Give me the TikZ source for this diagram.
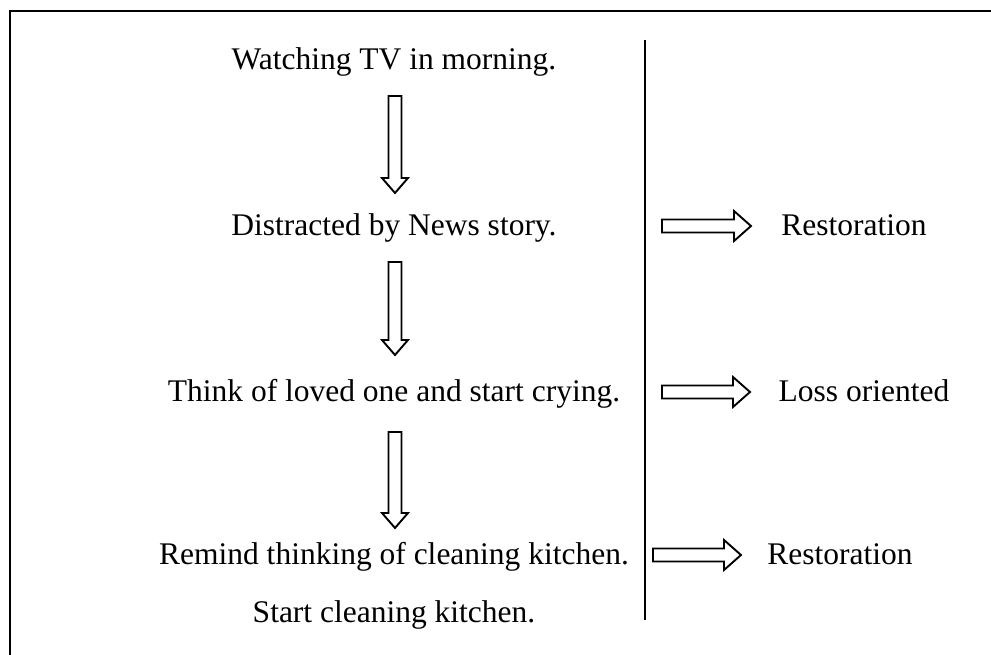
\documentclass[tikz,border=0pt]{standalone}
\usepackage{fontspec}
\setmainfont{Liberation Serif}
\begin{document}
\begin{tikzpicture}[x=1pt,y=-1pt,
  lbl/.style={anchor=base,inner sep=0pt,font=\fontsize{31.5}{36}\selectfont},
  blockarrow/.style={draw=black,line width=1.9pt,fill=white,line join=miter},
  frame/.style={draw=black,line width=2.2pt},
  divider/.style={draw=black,line width=2pt}]
\useasboundingbox (0,0) rectangle (991,655);
\fill[white] (0,0) rectangle (991,655);
% frame (right and bottom edges lie beyond the picture)
\draw[frame] (10,700) -- (10,11) -- (1050,11);
% divider
\coordinate (dtop) at (645,40);
\coordinate (dbot) at (645,620);
\draw[divider] (dtop) -- (dbot);
% left column texts
\node[lbl] (t1) at (394,70) {Watching TV in morning.};
\node[lbl] (t2) at (394,236) {Distracted by News story.};
\node[lbl] (t3) at (394,401) {Think of loved one and start crying.};
\node[lbl] (t4) at (394,564) {Remind thinking of cleaning kitchen.};
\node[lbl] (t5) at (394,622) {Start cleaning kitchen.};
% right column texts
\node[lbl] (r1) at (854,236) {Restoration};
\node[lbl] (r2) at (864,401) {Loss oriented};
\node[lbl] (r3) at (840,564) {Restoration};
% down arrows
\foreach \c/\t/\b/\p in {395/96/178/193, 395/262/340/355, 395/432/513/528}{
  \draw[blockarrow] (\c-6.5,\t) -- (\c+6.5,\t) -- (\c+6.5,\b) -- (\c+13,\b)
     -- (\c,\p) -- (\c-13,\b) -- (\c-6.5,\b) -- cycle;
}
% right arrows
\foreach \l/\h/\p/\y in {662/734/751/226, 662/733/750/392, 653/724/741/555}{
  \draw[blockarrow] (\l,\y-6.5) -- (\h,\y-6.5) -- (\h,\y-15) -- (\p,\y)
     -- (\h,\y+15) -- (\h,\y+6.5) -- (\l,\y+6.5) -- cycle;
}
\end{tikzpicture}
\end{document}
